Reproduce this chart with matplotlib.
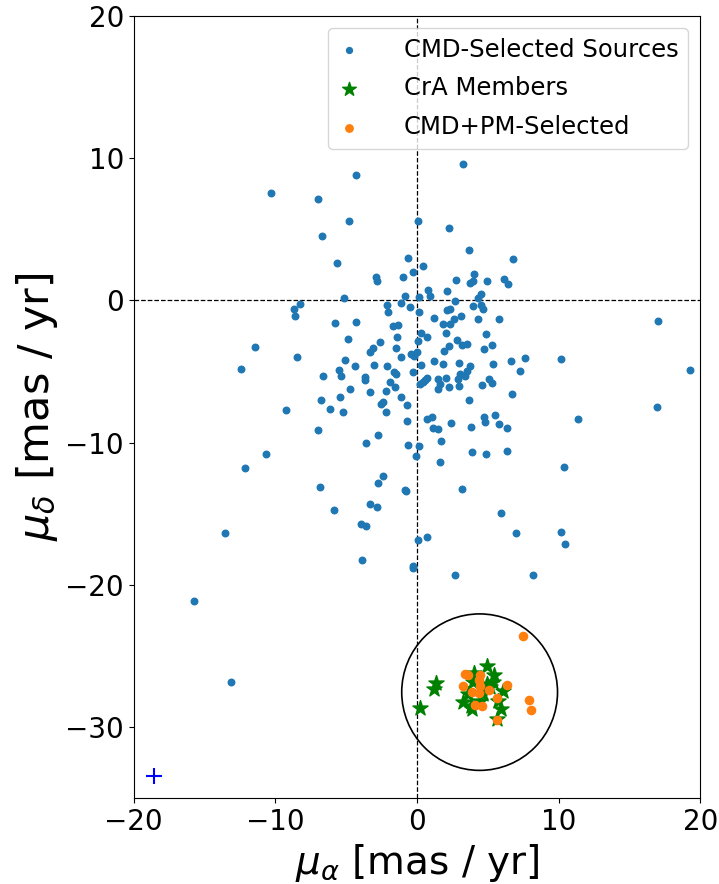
import matplotlib
matplotlib.use("Agg")
import matplotlib.pyplot as plt
from matplotlib.patches import Circle

cmd_x = [-10.34,-4.33,-7.0,-4.83,0.1,-6.69,-5.63,-0.61,0.45,-2.9,-2.83,-0.97,-0.26,-0.82,0.16,-5.18,-8.27,-8.7,-2.1,-1.13,-0.47,
         3.25,2.24,3.7,6.76,4.05,2.76,3.75,3.98,4.97,6.13,6.41,0.75,0.9,2.1,2.66,4.52,4.33,3.96,4.52,4.66,2.1,2.33,0.16,
         -8.62,-2.03,-5.77,-4.33,-1.7,-1.32,-1.39,0.31,0.1,-4.85,-2.61,-11.47,-3.32,-3.11,-1.46,-0.4,0.02,-0.21,-8.48,-1.13,-5.07,-12.42,-4.4,-3.04,-2.1,0.31,-5.49,-5.35,-6.62,-3.7,-3.7,-1.63,-1.46,-0.26,0.21,-1.91,-4.76,-3.32,-2.19,-1.53,-6.76,-5.42,-1.13,-2.54,-2.4,-0.69,-9.28,-6.13,-5.25,-2.19,-0.69,-7.0,-2.76,-3.63,-0.61,0.16,-10.69,-0.05,
         1.22,1.81,2.33,2.61,3.11,4.33,5.82,16.98,2.03,0.69,4.9,2.83,3.18,3.53,2.26,5.32,1.89,4.76,1.22,1.81,2.97,5.39,6.62,7.61,10.13,19.29,7.26,3.75,3.51,3.39,3.04,2.92,2.97,0.73,0.57,0.45,1.46,1.63,1.46,2.03,2.24,5.11,5.32,4.62,6.69,3.67,16.91,0.73,1.04,4.76,4.83,5.53,11.36,2.4,1.15,1.46,3.82,5.82,6.34,1.67,3.89,4.9,6.34,1.6,
         -12.11,-2.43,-2.78,-6.83,-0.85,-0.76,-3.35,-2.83,-5.84,-3.98,-3.6,-13.57,0.1,-3.91,-0.26,-0.26,-15.78,
         10.41,3.18,5.96,6.97,10.2,10.48,0.69,2.69,8.2,-13.14]
cmd_y = [7.52,8.81,7.1,5.6,5.6,4.52,2.6,2.98,2.41,1.62,1.34,1.62,1.97,0.33,0.21,0.14,-0.23,-0.63,-0.3,-0.19,-0.49,
         9.61,5.11,3.54,2.91,1.83,1.41,1.2,1.36,1.34,1.48,1.13,0.7,0.28,0.63,-0.02,0.42,0.16,-0.38,-0.35,-0.63,-0.7,-0.61,-0.82,
         -1.08,-0.82,-1.6,-1.52,-1.8,-1.73,-2.58,-2.3,-2.88,-2.74,-2.95,-3.3,-3.66,-3.38,-3.38,-3.8,-3.66,-3.94,-4.01,-4.01,-4.22,-4.8,-4.64,-4.57,-4.64,-4.57,-4.92,-5.3,-5.3,-5.37,-5.58,-5.06,-5.16,-5.02,-5.86,-5.72,-6.21,-6.42,-6.35,-6.07,-7.01,-6.8,-6.8,-7.29,-7.15,-7.36,-7.71,-7.64,-7.85,-7.85,-8.49,-9.14,-9.49,-10.01,-10.2,-10.27,-10.83,-10.92,
         -1.22,-1.64,-1.64,-1.29,-1.08,-1.29,-1.29,-1.45,-2.3,-2.58,-2.37,-2.81,-3.16,-3.09,-3.23,-3.16,-3.59,-3.45,-4.24,-4.5,-4.38,-4.5,-4.24,-4.03,-4.1,-4.87,-4.94,-4.64,-4.94,-5.3,-5.2,-5.51,-6.0,-5.44,-5.63,-5.74,-5.56,-5.86,-6.21,-5.44,-6.07,-5.51,-5.79,-5.93,-6.59,-7.01,-7.5,-8.37,-8.23,-8.23,-8.58,-8.09,-8.37,-8.65,-8.98,-9.07,-8.93,-8.72,-9.0,-9.85,-10.64,-10.78,-10.57,-11.37,
         -11.77,-12.36,-12.85,-13.13,-13.34,-13.41,-14.28,-14.49,-14.72,-15.75,-15.84,-16.34,-16.83,-18.26,-18.68,-18.82,-21.12,
         -11.7,-13.29,-14.93,-16.34,-16.27,-17.14,-16.62,-19.27,-19.27,-26.82]

cra_x = [4.97,5.46,4.05,1.32,1.2,0.21,3.27,3.86,4.45,5.94,5.63,6.1,5.39,4.92,3.98,4.69,5.75,3.63,3.82,5.16]
cra_y = [-25.7,-26.3,-26.2,-26.88,-27.31,-28.67,-28.25,-28.72,-28.13,-28.72,-29.42,-27.43,-26.84,-26.96,-26.84,-27.66,-28.13,-27.66,-28.48,-27.19]

sel_x = [7.47,3.39,3.63,4.45,4.4,3.23,4.45,6.34,3.91,4.4,5.11,5.67,4.1,4.62,7.89,8.06,5.63]
sel_y = [-23.6,-26.25,-26.37,-26.37,-26.67,-27.14,-27.12,-27.07,-27.54,-27.62,-27.38,-27.95,-28.41,-28.5,-28.1,-28.83,-29.49]

circle_center = (4.42, -27.54)
circle_radius = 5.5
err_x, err_y = -18.57, -33.47

fig = plt.figure(figsize=(7.19, 8.84), dpi=100)
ax = fig.add_axes([0.186, 0.097, 0.788, 0.885])

ax.axvline(0, color='black', ls='--', lw=0.9, zorder=1)
ax.axhline(0, color='black', ls='--', lw=0.9, zorder=1)

ax.scatter(cmd_x, cmd_y, s=22, color='#1f77b4', label='CMD-Selected Sources', zorder=2)
ax.scatter(cra_x, cra_y, s=130, marker='*', color='green', label='CrA Members', zorder=3)
ax.scatter(sel_x, sel_y, s=35, color='#ff7f0e', label='CMD+PM-Selected', zorder=4)

ax.add_patch(Circle(circle_center, circle_radius, fill=False, edgecolor='black', lw=1.2, zorder=5))
ax.plot([err_x], [err_y], marker='+', color='blue', markersize=12, mew=1.5, ls='none')

ax.set_xlim(-20, 20)
ax.set_ylim(-35, 20)
ax.set_xticks([-20, -10, 0, 10, 20])
ax.set_yticks([-30, -20, -10, 0, 10, 20])
ax.tick_params(labelsize=20)
ax.set_xlabel(r'$\mu_\alpha$ [mas / yr]', fontsize=28)
ax.set_ylabel(r'$\mu_\delta$ [mas / yr]', fontsize=31)

ax.legend(loc='upper right', fontsize=17.5, markerscale=0.9, handlelength=0.9,
          handletextpad=1.8, labelspacing=0.6)

fig.savefig('out.png', dpi=100)
